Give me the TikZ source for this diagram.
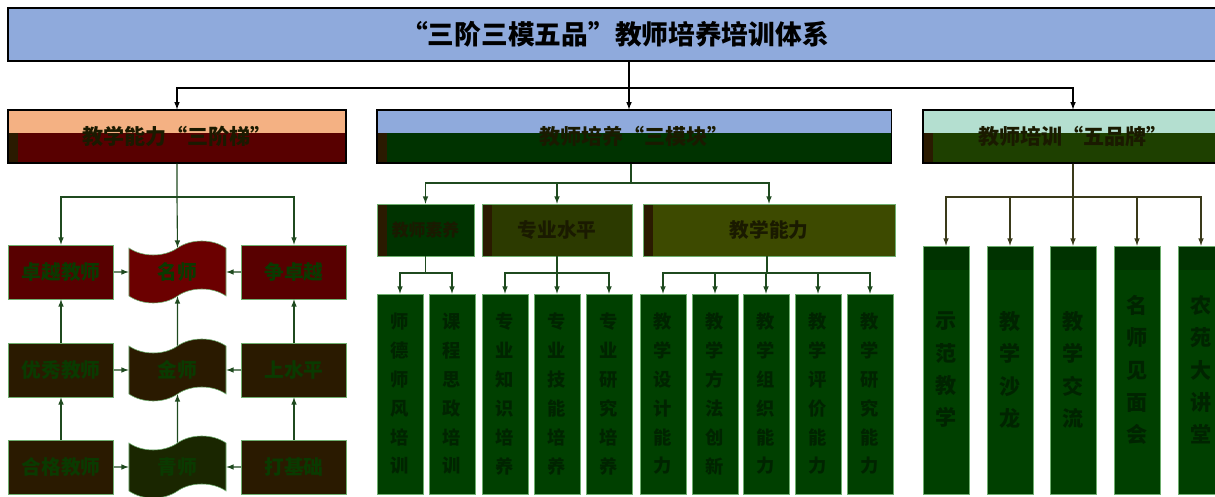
\documentclass[tikz,border=0pt]{standalone}
\usepackage{fontspec}
\setmainfont{Noto Sans CJK SC}
\usetikzlibrary{shapes.symbols}
\definecolor{titleblue}{HTML}{8FAADC}
\definecolor{peach}{HTML}{F4B183}
\definecolor{mint}{HTML}{B4DFD0}
\definecolor{darkred}{HTML}{580000}
\definecolor{redtop}{HTML}{6B0000}
\definecolor{darkgreen}{HTML}{003300}
\definecolor{leafgreen}{HTML}{004000}
\definecolor{mossgreen}{HTML}{1E4000}
\definecolor{brown}{HTML}{2A1A00}
\definecolor{olive}{HTML}{3D4A00}
\definecolor{olivedark}{HTML}{2C3A00}
\definecolor{sprout}{HTML}{1A2600}
\definecolor{edgegreen}{HTML}{6FAF6F}
\definecolor{linegreen}{HTML}{1F4A1F}
\definecolor{lineolive}{HTML}{3A3A1A}
\definecolor{boxtext}{HTML}{0A3A00}
\definecolor{leaftext}{HTML}{002400}
\definecolor{hdrtext}{HTML}{1A1A00}
\tikzset{
  hdr/.style 2 args={draw=black, thick, fill=#1, minimum height=1.325cm,
    font=\bfseries\fontsize{15}{18}\selectfont, text=hdrtext,
    path picture={
      \fill[#2] (path picture bounding box.south west) rectangle ([yshift=0.75cm]path picture bounding box.south east);
      \fill[brown] (path picture bounding box.south west) rectangle ([xshift=0.25cm,yshift=0.75cm]path picture bounding box.south west);}},
  stepbox/.style={draw=edgegreen, fill=#1, minimum width=2.625cm, minimum height=1.35cm,
    font=\bfseries\fontsize{14}{16}\selectfont, text=boxtext},
  wave/.style={tape, draw=edgegreen, fill=#1, minimum width=2.425cm, minimum height=1.55cm,
    tape bend height=0.35cm, font=\bfseries\fontsize{14}{16}\selectfont, text=boxtext},
  subbox/.style={draw=edgegreen, fill=#1, minimum height=1.3cm,
    font=\bfseries\fontsize{14}{16}\selectfont, text=hdrtext,
    path picture={\fill[brown] (path picture bounding box.south west) rectangle ([xshift=0.25cm]path picture bounding box.north west);}},
  leaf/.style={draw=edgegreen, fill=leafgreen, minimum width=1.15cm, minimum height=5cm,
    align=center, font=\bfseries\fontsize{13}{20.5}\selectfont, text=leaftext},
  tallleaf/.style={leaf, minimum height=6.2cm, font=\bfseries\fontsize{15}{23}\selectfont,
    path picture={\fill[darkgreen] (path picture bounding box.north west) rectangle ([yshift=-0.6cm]path picture bounding box.north east);}},
  tree/.style={->, >=latex, thick, draw=#1}
}
\begin{document}
\begin{tikzpicture}[x=0.025cm, y=-0.025cm]
  \useasboundingbox (0,0) rectangle (1215,497);
  % title
  \node[draw=black, very thick, fill=titleblue, minimum width=30.35cm, minimum height=1.325cm,
    font=\bfseries\fontsize{19}{22}\selectfont] (title) at (615,34.5) {“三阶三模五品”教师培养培训体系};
  \coordinate (jT) at (629,88);
  \coordinate (jTL) at (177,88);
  \coordinate (jTR) at (1073,88);
  % three headers
  \node[hdr={peach}{darkred}, minimum width=8.45cm] (hdrL) at (177,136.5) {教学能力“三阶梯”};
  \node[hdr={titleblue}{darkgreen}, minimum width=12.85cm] (hdrM) at (634,136.5) {教师培养“三模块”};
  \node[hdr={mint}{mossgreen}, minimum width=7.5cm] (hdrR) at (1073,136.5) {教师培训“五品牌”};
  \draw[tree=black] (jT |- title.south) -- (jT) -- (jT |- hdrM.north);
  \draw[tree=black] (jT) -- (jTL) -- (jTL |- hdrL.north);
  \draw[tree=black] (jT) -- (jTR) -- (jTR |- hdrR.north);

  % left part: ladder
  \node[stepbox=darkred] (zhuoyue) at (61,272) {卓越教师};
  \node[stepbox=brown] (youxiu) at (61,370) {优秀教师};
  \node[stepbox=brown] (hege) at (61,467) {合格教师};
  \node[wave=redtop] (mingshi) at (177.5,272) {名师};
  \node[wave=brown] (jinshi) at (177.5,370) {金师};
  \node[wave=sprout] (qingshi) at (177.5,467) {青师};
  \node[stepbox=darkred] (zheng) at (294,272) {争卓越};
  \node[stepbox=brown] (shang) at (294,370) {上水平};
  \node[stepbox=brown] (daji) at (294,467) {打基础};
  \coordinate (jL) at (177,197);
  \draw[tree=linegreen] (hdrL.south) -- (jL) -- (mingshi.north);
  \draw[tree=linegreen] (jL) -| (zhuoyue.north);
  \draw[tree=linegreen] (jL) -| (zheng.north);
  \draw[tree=linegreen] (hege) -- (youxiu);
  \draw[tree=linegreen] (youxiu) -- (zhuoyue);
  \draw[tree=linegreen] (daji) -- (shang);
  \draw[tree=linegreen] (shang) -- (zheng);
  \draw[tree=linegreen] (qingshi) -- (jinshi);
  \draw[tree=linegreen] (jinshi) -- (mingshi);
  \draw[tree=linegreen] (zhuoyue) -- (mingshi);
  \draw[tree=linegreen] (youxiu) -- (jinshi);
  \draw[tree=linegreen] (hege) -- (qingshi);
  \draw[tree=linegreen] (zheng) -- (mingshi);
  \draw[tree=linegreen] (shang) -- (jinshi);
  \draw[tree=linegreen] (daji) -- (qingshi);

  % middle part: modules
  \node[subbox=darkgreen, minimum width=2.425cm, font=\bfseries\fontsize{12}{14}\selectfont] (suyang) at (425.5,230) {教师素养};
  \node[subbox=olivedark, minimum width=3.75cm] (shuiping) at (557,230) {专业水平};
  \node[subbox=olive, minimum width=6.3cm] (nengli) at (769,230) {教学能力};
  \coordinate (jM) at (631,183);
  \draw[tree=linegreen] (hdrM.south -| jM) -- (jM) -| (suyang.north);
  \draw[tree=linegreen] (jM) -| (shuiping.north);
  \draw[tree=linegreen] (jM) -| (nengli.north);

  \node[leaf] (m1) at (400,394) {师\\德\\师\\风\\培\\训};
  \node[leaf] (m2) at (452,394) {课\\程\\思\\政\\培\\训};
  \node[leaf] (m3) at (505,394) {专\\业\\知\\识\\培\\养};
  \node[leaf] (m4) at (557,394) {专\\业\\技\\能\\培\\养};
  \node[leaf] (m5) at (609,394) {专\\业\\研\\究\\培\\养};
  \node[leaf] (m6) at (663,394) {教\\学\\设\\计\\能\\力};
  \node[leaf] (m7) at (715,394) {教\\学\\方\\法\\创\\新};
  \node[leaf] (m8) at (766,394) {教\\学\\组\\织\\能\\力};
  \node[leaf] (m9) at (818,394) {教\\学\\评\\价\\能\\力};
  \node[leaf] (m10) at (870,394) {教\\学\\研\\究\\能\\力};
  \coordinate (jS1) at (425.5,273);
  \coordinate (jS2) at (557,273);
  \coordinate (jS3) at (767,273);
  \foreach \leafname in {m1,m2}
    \draw[tree=linegreen] (suyang.south) -- (jS1) -| (\leafname.north);
  \foreach \leafname in {m3,m4,m5}
    \draw[tree=linegreen] (shuiping.south) -- (jS2) -| (\leafname.north);
  \foreach \leafname in {m6,m7,m8,m9,m10}
    \draw[tree=linegreen] (nengli.south -| jS3) -- (jS3) -| (\leafname.north);

  % right part: brands
  \node[tallleaf] (r1) at (946,370) {示\\范\\教\\学};
  \node[tallleaf] (r2) at (1010,370) {教\\学\\沙\\龙};
  \node[tallleaf] (r3) at (1073,370) {教\\学\\交\\流};
  \node[tallleaf] (r4) at (1137,370) {名\\师\\见\\面\\会};
  \node[tallleaf] (r5) at (1201,370) {农\\苑\\大\\讲\\堂};
  \coordinate (jR) at (1073,197);
  \foreach \leafname in {r1,r2,r3,r4,r5}
    \draw[tree=lineolive] (hdrR.south) -- (jR) -| (\leafname.north);
\end{tikzpicture}
\end{document}
